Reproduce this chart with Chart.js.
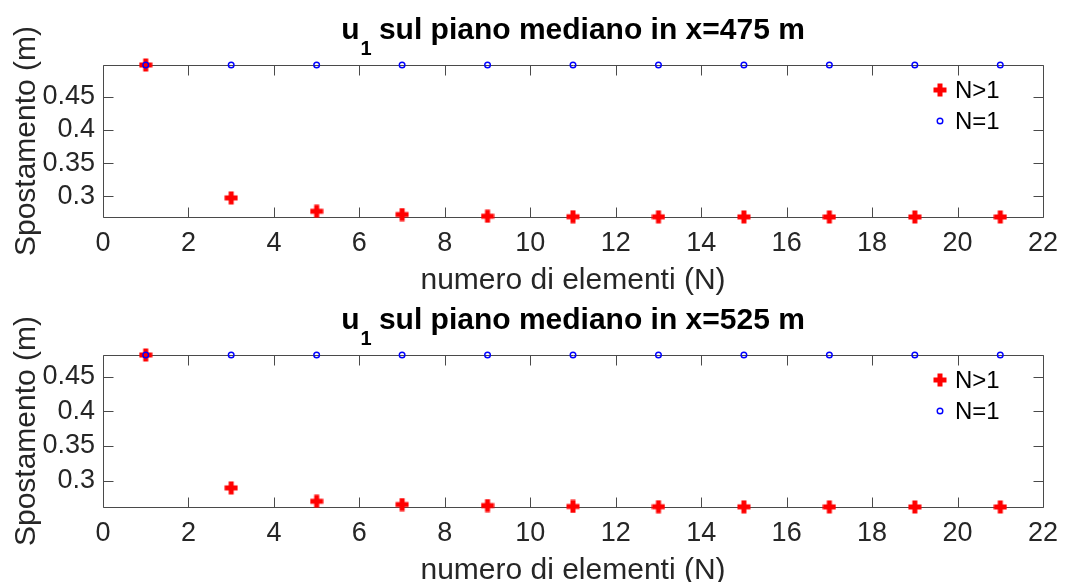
<!DOCTYPE html>
<html>
<head>
    <style>
        html, body {
            margin: 0;
            padding: 0;
            background: #fff;
        }
        body {
            width: 1076px;
            height: 582px;
            overflow: hidden;
            position: relative;
        }
        .panel {
            position: absolute;
            left: 0;
            width: 1076px;
            height: 300px;
        }
        #panelTop { top: 0; }
        #panelBottom { top: 290px; }
    </style>
    <script src="https://cdn.jsdelivr.net/npm/chart.js"></script>
</head>
<body>
    <div class="panel" id="panelTop"><canvas id="chart475" width="1076" height="300"></canvas></div>
    <div class="panel" id="panelBottom"><canvas id="chart525" width="1076" height="300"></canvas></div>
    <script>
        // numero di elementi
        var elementi = [1, 3, 5, 7, 9, 11, 13, 15, 17, 19, 21];
        var xTicks = [0, 2, 4, 6, 8, 10, 12, 14, 16, 18, 20, 22];
        var yTicks = [0.3, 0.35, 0.4, 0.45];

        // spostamento u1 (m), x = 475 m
        var u475Multi  = [0.4979, 0.2975, 0.2773, 0.2724, 0.2699, 0.2691, 0.2689, 0.2688, 0.2687, 0.2687, 0.2687];
        var u475Single = [0.4979, 0.4979, 0.4979, 0.4979, 0.4979, 0.4979, 0.4979, 0.4979, 0.4979, 0.4979, 0.4979];

        // spostamento u1 (m), x = 525 m
        var u525Multi  = [0.4814, 0.2893, 0.2700, 0.2653, 0.2638, 0.2625, 0.2621, 0.2619, 0.2618, 0.2617, 0.2617];
        var u525Single = [0.4814, 0.4814, 0.4814, 0.4814, 0.4814, 0.4814, 0.4814, 0.4814, 0.4814, 0.4814, 0.4814];

        var FONT = '"Liberation Sans", Arial, Helvetica, sans-serif';
        var AXIS_GREY = '#262626';

        // filled red "+" marker
        function plusMarker() {
            var c = document.createElement('canvas');
            c.width = 14;
            c.height = 14;
            var g = c.getContext('2d');
            g.fillStyle = '#ff0000';
            g.fillRect(0.5, 4.5, 13, 5);
            g.fillRect(4.5, 0.5, 5, 13);
            return c;
        }
        var plus = plusMarker();

        function toPoints(xs, ys) {
            return xs.map(function(x, i) { return { x: x, y: ys[i] }; });
        }

        // box round the axes with inward ticks on all four sides
        var axesBox = {
            id: 'axesBox',
            beforeDatasetsDraw: function(chart) {
                var ctx = chart.ctx, a = chart.chartArea;
                var xs = chart.scales.x, ys = chart.scales.y;
                var L = Math.round(a.left) + 0.5, R = Math.round(a.right) + 0.5;
                var T = Math.round(a.top) + 0.5, B = Math.round(a.bottom) + 0.5;
                var len = 10;
                ctx.save();
                ctx.strokeStyle = '#4a4a4a';
                ctx.lineWidth = 1;
                ctx.beginPath();
                ctx.rect(L, T, R - L, B - T);
                xs.ticks.forEach(function(t) {
                    var px = Math.round(xs.getPixelForValue(t.value)) + 0.5;
                    ctx.moveTo(px, B); ctx.lineTo(px, B - len);
                    ctx.moveTo(px, T); ctx.lineTo(px, T + len);
                });
                ys.ticks.forEach(function(t) {
                    var py = Math.round(ys.getPixelForValue(t.value)) + 0.5;
                    ctx.moveTo(L, py); ctx.lineTo(L + len, py);
                    ctx.moveTo(R, py); ctx.lineTo(R - len, py);
                });
                ctx.stroke();
                ctx.restore();
            }
        };

        // bold title with a subscript index
        var subTitle = {
            id: 'subTitle',
            afterDraw: function(chart, args, opts) {
                var ctx = chart.ctx, a = chart.chartArea;
                var big = 'bold 30px ' + FONT, small = 'bold 20px ' + FONT;
                ctx.save();
                ctx.fillStyle = '#000';
                ctx.textBaseline = 'alphabetic';
                ctx.textAlign = 'left';
                ctx.font = big;
                var wBase = ctx.measureText(opts.base).width;
                var wRest = ctx.measureText(opts.rest).width;
                ctx.font = small;
                var wSub = ctx.measureText(opts.sub).width;
                var x = (a.left + a.right) / 2 - (wBase + wSub + wRest) / 2;
                ctx.font = big;
                ctx.fillText(opts.base, x, 39);
                ctx.font = small;
                ctx.fillText(opts.sub, x + wBase + 1, 55);
                ctx.font = big;
                ctx.fillText(opts.rest, x + wBase + wSub, 39);
                ctx.restore();
            }
        };

        // legend in the upper right corner of the axes
        var cornerLegend = {
            id: 'cornerLegend',
            afterDraw: function(chart, args, opts) {
                var ctx = chart.ctx;
                ctx.save();
                ctx.font = '24px ' + FONT;
                ctx.textBaseline = 'middle';
                ctx.textAlign = 'left';
                chart.data.datasets.forEach(function(ds, i) {
                    var y = opts.y + i * opts.rowHeight;
                    if (ds.pointStyle instanceof HTMLCanvasElement) {
                        ctx.drawImage(ds.pointStyle, opts.x - ds.pointStyle.width / 2, y - ds.pointStyle.height / 2);
                    } else {
                        ctx.beginPath();
                        ctx.arc(opts.x, y, ds.pointRadius, 0, Math.PI * 2);
                        ctx.strokeStyle = ds.borderColor;
                        ctx.lineWidth = ds.borderWidth;
                        ctx.stroke();
                    }
                    ctx.fillStyle = '#000';
                    ctx.fillText(ds.label, opts.x + 15, y + 1);
                });
                ctx.restore();
            }
        };

        function makeChart(id, multi, single, rest) {
            var all = multi.concat(single);
            var yMin = Math.min.apply(null, all);
            var yMax = Math.max.apply(null, all);
            return new Chart(document.getElementById(id), {
                type: 'scatter',
                data: {
                    datasets: [{
                        label: 'N>1',
                        data: toPoints(elementi, multi),
                        pointStyle: plus,
                        pointRadius: 7,
                        order: 1,
                        clip: false
                    }, {
                        label: 'N=1',
                        data: toPoints(elementi, single),
                        pointStyle: 'circle',
                        pointRadius: 2.8,
                        borderWidth: 1.4,
                        borderColor: '#0000ff',
                        backgroundColor: 'rgba(0,0,0,0)',
                        order: 0,
                        clip: false
                    }]
                },
                options: {
                    responsive: false,
                    animation: false,
                    events: [],
                    layout: { padding: { left: 0, top: 65, right: 33, bottom: 0 } },
                    scales: {
                        x: {
                            type: 'linear',
                            min: 0,
                            max: 22,
                            grid: { display: false, drawTicks: false },
                            border: { display: false },
                            afterBuildTicks: function(s) { s.ticks = xTicks.map(function(v) { return { value: v }; }); },
                            afterFit: function(s) { s.height = 83; },
                            ticks: {
                                padding: 10,
                                autoSkip: false,
                                maxRotation: 0,
                                color: AXIS_GREY,
                                font: { family: FONT, size: 27 },
                                callback: function(v) { return String(v); }
                            },
                            title: {
                                display: true,
                                text: 'numero di elementi (N)',
                                color: AXIS_GREY,
                                font: { family: FONT, size: 30 },
                                padding: { top: 0, bottom: 1 }
                            }
                        },
                        y: {
                            type: 'linear',
                            min: yMin,
                            max: yMax,
                            grid: { display: false, drawTicks: false },
                            border: { display: false },
                            afterBuildTicks: function(s) { s.ticks = yTicks.map(function(v) { return { value: v }; }); },
                            afterFit: function(s) { s.width = 103; },
                            ticks: {
                                padding: 8,
                                autoSkip: false,
                                color: AXIS_GREY,
                                font: { family: FONT, size: 27 },
                                callback: function(v) { return String(+v.toFixed(2)); }
                            },
                            title: {
                                display: true,
                                text: 'Spostamento (m)',
                                color: AXIS_GREY,
                                font: { family: FONT, size: 30 },
                                padding: { top: 9, bottom: 0 }
                            }
                        }
                    },
                    plugins: {
                        legend: { display: false },
                        tooltip: { enabled: false },
                        subTitle: { base: 'u', sub: '1', rest: ' ' + rest },
                        cornerLegend: { x: 940, y: 90, rowHeight: 31 }
                    }
                },
                plugins: [axesBox, subTitle, cornerLegend]
            });
        }

        makeChart('chart475', u475Multi, u475Single, 'sul piano mediano in x=475 m');
        makeChart('chart525', u525Multi, u525Single, 'sul piano mediano in x=525 m');
    </script>
</body>
</html>
